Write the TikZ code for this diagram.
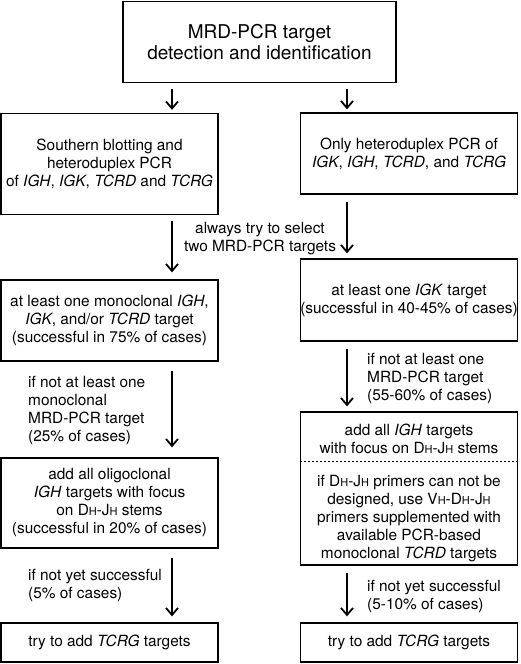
\documentclass[tikz,border=0pt]{standalone}
\usepackage{fontspec}
\setmainfont{TeX Gyre Heros}
\usetikzlibrary{arrows.meta}
\newcommand\scH{{\fontsize{11}{11}\selectfont H}}
\begin{document}
\begin{tikzpicture}[x=1pt,y=-1pt,
  box/.style={draw, line width=1.3pt, inner sep=0pt, align=center, font=\fontsize{15.4}{18}\selectfont},
  lbl/.style={inner sep=0pt, align=left, font=\fontsize{15.4}{18}\selectfont},
  arr/.style={line width=1.3pt, -{Straight Barb[length=7pt,width=12pt,line width=1.8pt]}}]
\useasboundingbox (0,0) rectangle (520,664);
\coordinate (lx) at (172,0);
\coordinate (rx) at (347,0);
\coordinate (dsh) at (0,461);

\node[box, minimum width=273pt, minimum height=81pt, font=\fontsize{19}{21.5}\selectfont] (top) at (259.5,42) {MRD-PCR target\\detection and identification};

\node[box, minimum width=217pt, minimum height=101pt] (b2l) at (109.5,164) {Southern blotting and\\heteroduplex PCR\\of \textit{IGH}, \textit{IGK}, \textit{TCRD} and \textit{TCRG}};
\node[box, minimum width=217pt, minimum height=81pt] (b2r) at (409,153.5) {Only heteroduplex PCR of\\\textit{IGK}, \textit{IGH}, \textit{TCRD}, and \textit{TCRG}};

\node[box, minimum width=217pt, minimum height=81pt] (b3l) at (109.5,320.5) {at least one monoclonal \textit{IGH},\\\textit{IGK}, and/or \textit{TCRD} target\\(successful in 75\% of cases)};
\node[box, minimum width=217pt, minimum height=82pt] (b3r) at (409,300) {at least one \textit{IGK} target\\(successful in 40-45\% of cases)};

\node[box, minimum width=217pt, minimum height=90pt] (b4l) at (109.5,503) {add all oligoclonal\\\textit{IGH} targets with focus\\on D\scH-J\scH{} stems\\(successful in 20\% of cases)};
\node[box, minimum width=217pt, minimum height=153pt] (b4r) at (409,488.5) {};
\node[lbl, align=center] (t4a) at (409,438.5) {add all \textit{IGH} targets\\with focus on D\scH-J\scH{} stems};
\node[lbl, align=center] (t4b) at (409,519) {if D\scH-J\scH{} primers can not be\\designed, use V\scH-D\scH-J\scH\\primers supplemented with\\available PCR-based\\monoclonal \textit{TCRD} targets};
\draw[line width=1pt, dash pattern=on 2pt off 2pt] (b4r.west |- dsh) -- (b4r.east |- dsh);

\node[box, minimum width=217pt, minimum height=39pt] (b5l) at (109.5,642.5) {try to add \textit{TCRG} targets};
\node[box, minimum width=217pt, minimum height=39pt] (b5r) at (409,642.5) {try to add \textit{TCRG} targets};

\draw[arr, shorten <=5.5pt, shorten >=3pt] (top.south -| lx) -- (b2l.north -| lx);
\draw[arr, shorten <=5.5pt, shorten >=3pt] (top.south -| rx) -- (b2r.north -| rx);
\draw[arr, shorten <=5.5pt, shorten >=7pt] (b2l.south -| lx) -- (b3l.north -| lx);
\draw[arr, shorten <=7.5pt, shorten >=5pt] (b2r.south -| rx) -- (b3r.north -| rx);
\draw[arr, shorten <=9pt, shorten >=10pt] (b3l.south -| lx) -- (b4l.north -| lx);
\draw[arr, shorten <=7pt, shorten >=5pt] (b3r.south -| rx) -- (b4r.north -| rx);
\draw[arr, shorten <=9pt, shorten >=6pt] (b4l.south -| lx) -- (b5l.north -| lx);
\draw[arr, shorten <=7pt, shorten >=6pt] (b4r.south -| rx) -- (b5r.north -| rx);

\node[lbl, align=center] (al) at (260,238.5) {always try to select\\two MRD-PCR targets};
\node[lbl, anchor=west] (l3) at (28,410) {if not at least one\\monoclonal\\MRD-PCR target\\(25\% of cases)};
\node[lbl, anchor=west] (r3) at (367,378.5) {if not at least one\\MRD-PCR target\\(55-60\% of cases)};
\node[lbl, anchor=west] (l4) at (28,585.5) {if not yet successful\\(5\% of cases)};
\node[lbl, anchor=west] (r4) at (367,596) {if not yet successful\\(5-10\% of cases)};
\end{tikzpicture}
\end{document}
